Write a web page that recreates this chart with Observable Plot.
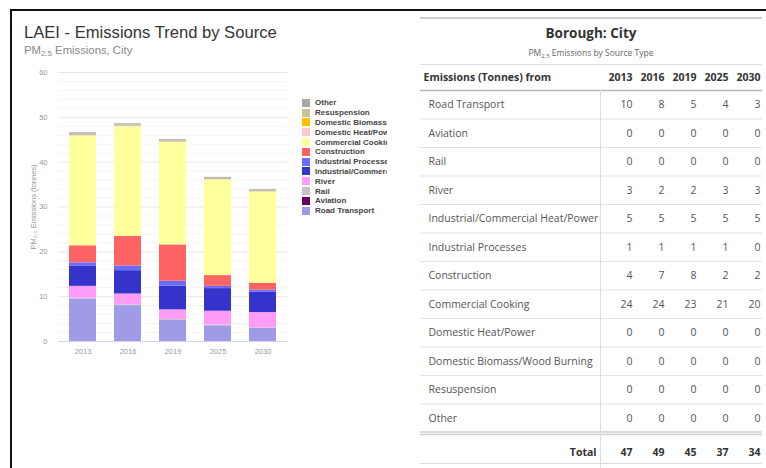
<!DOCTYPE html>
<html><head><meta charset="utf-8">
<script src="https://cdn.jsdelivr.net/npm/d3@7"></script>
<script src="https://cdn.jsdelivr.net/npm/@observablehq/plot@0.6"></script>
<style>
body{margin:0;width:766px;height:468px;overflow:hidden;background:#fff;position:relative;font-family:"Liberation Sans",Arial,sans-serif;}
#frame{position:absolute;left:10px;top:9px;width:770px;height:480px;border-top:2px solid #111;border-left:2px solid #111;}
#title{position:absolute;left:24px;top:25px;font-size:16.6px;color:#333;line-height:1;white-space:nowrap}
#subtitle{position:absolute;left:24px;top:45px;font-size:11.3px;color:#888;line-height:1;white-space:nowrap}
sub{font-size:0.7em;vertical-align:-0.3em;line-height:0}
#chart{position:absolute;left:0;top:62px}
#legend{position:absolute;left:302px;top:98px;width:85px;overflow:hidden}
.li{height:9.8px;display:flex;align-items:center;font-size:8px;font-weight:bold;color:#444;white-space:nowrap}
.sw{width:8px;height:8px;margin-right:5px;flex:none}
#tabhead{position:absolute;left:420px;top:17px;width:342px;height:45px;border-top:2px solid #ccc;border-bottom:1px solid #ddd;text-align:center;font-family:"Open Sans",sans-serif;}
#tabtitle{position:absolute;left:0;right:0;top:8px;font-size:13.5px;font-weight:bold;color:#333;line-height:1}
#tabsub{position:absolute;left:0;right:0;top:30px;font-size:8.5px;color:#666;line-height:1}
#table{position:absolute;left:410px;top:64px}
</style></head>
<body>
<div id="frame"></div>
<div id="title">LAEI - Emissions Trend by Source</div>
<div id="subtitle">PM<sub>2.5</sub> Emissions, City</div>
<div id="chart"></div>
<div id="legend"></div>
<div id="tabhead"><div id="tabtitle">Borough: City</div><div id="tabsub">PM<sub>2.5</sub> Emissions by Source Type</div></div>
<div id="table"></div>
<script>
const years = ["2013", "2016", "2019", "2025", "2030"];
const sources = ["Road Transport", "Aviation", "Rail", "River", "Industrial/Commercial Heat/Power", "Industrial Processes", "Construction", "Commercial Cooking", "Domestic Heat/Power", "Domestic Biomass/Wood Burning", "Resuspension", "Other"];
const colors = ["#a09be6", "#660066", "#c4c4c4", "#ff9cf8", "#3434cc", "#6b6bff", "#ff6464", "#ffff9c", "#ffc8d0", "#ffbf00", "#c9c39a", "#a8a8a8"];

const roadTransport = [9.5, 8.0, 4.7, 3.5, 2.9];
const aviation = [0, 0, 0, 0, 0];
const rail = [0.15, 0.2, 0.2, 0.15, 0.15];
const river = [2.65, 2.4, 2.15, 3.1, 3.4];
const industrialCommercial = [4.55, 5.2, 5.3, 5.05, 4.55];
const industrialProcesses = [0.7, 1.05, 1.1, 0.5, 0.45];
const construction = [3.8, 6.6, 8.1, 2.4, 1.55];
const commercialCooking = [24.45, 24.45, 22.85, 21.3, 20.3];
const domesticHeat = [0.1, 0.1, 0.1, 0.1, 0.1];
const domesticBiomass = [0, 0, 0, 0, 0];
const resuspension = [0.35, 0.3, 0.3, 0.3, 0.25];
const other = [0.3, 0.25, 0.2, 0.2, 0.2];

const yTicks = [0, 10, 20, 30, 40, 50, 60];
const minorTicks = [2, 4, 6, 8, 12, 14, 16, 18, 22, 24, 26, 28, 32, 34, 36, 38, 42, 44, 46, 48, 52, 54, 56, 58];
const tableHeader = "Emissions (Tonnes) from";
const totalLabel = "Total";

const series = [roadTransport, aviation, rail, river, industrialCommercial, industrialProcesses, construction, commercialCooking, domesticHeat, domesticBiomass, resuspension, other];

const records = years.flatMap((y, i) => sources.map((s, j) => ({year: y, source: s, value: series[j][i]})));

const chart = Plot.plot({
  width: 300, height: 310,
  marginTop: 10, marginBottom: 31, marginLeft: 58, marginRight: 13,
  style: {fontFamily: "'Liberation Sans', Arial, sans-serif", fontSize: "7.5px", color: "#999", background: "transparent"},
  x: {domain: years, paddingInner: 0.4, paddingOuter: 0.23, label: null, tickSize: 0, tickPadding: 7},
  y: {domain: [0, 60], ticks: yTicks, tickSize: 0, tickPadding: 11, label: "PM₂.₅ Emissions (tonnes)", labelAnchor: "center", labelOffset: 28, labelArrow: "none"},
  color: {domain: sources, range: colors},
  marks: [
    Plot.ruleY(minorTicks, {stroke: "#f4f4f4"}),
    Plot.ruleY(yTicks, {stroke: "#e8e8e8"}),
    Plot.barY(records, {x: "year", y: "value", fill: "source", order: sources}),
    Plot.ruleY([0], {stroke: "#d4d4f0"})
  ]
});
document.getElementById("chart").append(chart);

const colorScale = chart.scale("color");
const legend = document.getElementById("legend");
sources.slice().reverse().forEach(s => {
  const row = document.createElement("div");
  row.className = "li";
  const sw = document.createElement("span");
  sw.className = "sw";
  sw.style.background = colorScale.apply(s);
  row.append(sw, document.createTextNode(s));
  legend.append(row);
});

const labelRows = sources.map((s, j) => ({r: j + 1, label: s}));
const cells = sources.flatMap((s, j) => years.map((y, i) => ({r: j + 1, c: i + 1, v: String(Math.round(series[j][i]))})));
const totals = years.map((y, i) => ({r: 13, c: i + 1, v: String(Math.round(d3.sum(series, s => s[i])))}));
const headerCells = years.map((y, i) => ({r: 0, c: i + 1, v: y}));
const rowLines = sources.slice(0, -1).map((s, j) => j + 1.5);

const table = Plot.plot({
  width: 356, height: 404,
  marginTop: 11.75, marginBottom: 21.75, marginLeft: 190, marginRight: 6,
  x: {domain: [0, 5], axis: null},
  y: {domain: [0, 13], reverse: true, axis: null},
  style: {fontFamily: "'Open Sans', sans-serif", fontSize: "10.5px", background: "transparent"},
  marks: [
    Plot.ruleY(rowLines, {y: d => d, stroke: "#e2e2e2", insetLeft: -180, insetRight: -2}),
    Plot.ruleY([0.5], {y: d => d, stroke: "#b8b8b8", strokeWidth: 1.3, insetLeft: -180, insetRight: -2}),
    Plot.ruleY([12.5], {y: d => d, stroke: "#cfcfcf", strokeWidth: 1.4, dy: -0.5, insetLeft: -180, insetRight: -2}),
    Plot.ruleY([12.5], {y: d => d, stroke: "#cfcfcf", strokeWidth: 1.4, dy: 2, insetLeft: -180, insetRight: -2}),
    Plot.ruleY([13.5], {y: d => d, stroke: "#dcdcdc", dy: 2.5, insetLeft: -180, insetRight: -2}),
    Plot.ruleX([0], {y1: 0.5, y2: 14.5, stroke: "#dcdcdc"}),
    Plot.text([tableHeader], {y: () => 0, text: d => d, frameAnchor: "left", dx: -177, dy: 1, textAnchor: "start", fontWeight: "bold", fill: "#333"}),
    Plot.text(headerCells, {x: "c", y: "r", text: "v", textAnchor: "end", dy: 1, fontWeight: "bold", fill: "#333"}),
    Plot.text(labelRows, {y: "r", text: "label", frameAnchor: "left", dx: -172, textAnchor: "start", fill: "#555"}),
    Plot.text(cells, {x: "c", y: "r", text: "v", textAnchor: "end", fill: "#555"}),
    Plot.text([totalLabel], {x: () => 0, y: () => 13, text: d => d, textAnchor: "end", dx: -4, dy: 5.5, fontWeight: "bold", fill: "#333"}),
    Plot.text(totals, {x: "c", y: "r", text: "v", textAnchor: "end", dy: 5.5, fontWeight: "bold", fill: "#333"})
  ]
});
document.getElementById("table").append(table);
</script>
</body></html>
